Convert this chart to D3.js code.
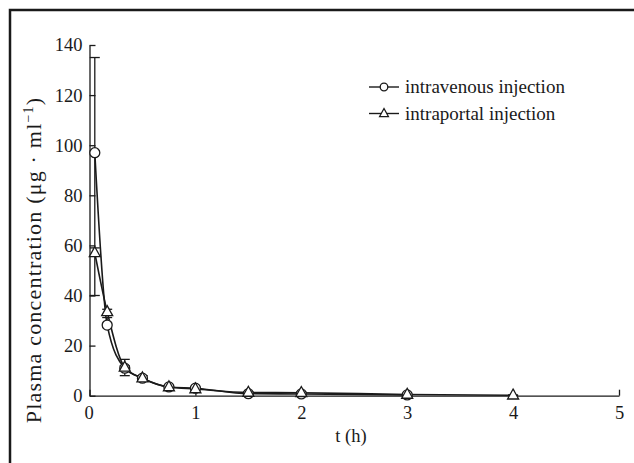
<!DOCTYPE html>
<html>
<head>
<meta charset="utf-8">
<script src="https://cdn.jsdelivr.net/npm/d3@7"></script>
<style>
  html, body { margin: 0; padding: 0; background: #fff; }
  svg { display: block; }
  text { font-family: "Liberation Serif", "Times New Roman", serif; fill: #1a1a1a; }
</style>
</head>
<body>
<script>
// ---- data ----
const timeIV = [0.05, 0.167, 0.333, 0.5, 0.75, 1, 1.5, 2, 3];
const valuesIV = [97, 28.2, 11, 7, 3.5, 3, 0.8, 0.7, 0.3];
const errUpIV = [38, 3, 1, 1, 0.5, 0.5, 0.3, 0.2, 0.2];
const errDownIV = [38, 1, 1, 1, 0.5, 0.5, 0.3, 0.2, 0.2];

const timeIP = [0.05, 0.167, 0.333, 0.5, 0.75, 1, 1.5, 2, 3, 4];
const valuesIP = [57, 33.5, 11.3, 7, 3.5, 2.7, 1.3, 1.2, 0.5, 0.2];
const errUpIP = [0, 1, 3.2, 1, 0.5, 0.5, 0.3, 0.3, 0.2, 0.1];
const errDownIP = [17, 1, 3.3, 1, 0.5, 0.5, 0.3, 0.3, 0.2, 0.1];

const xTicks = [0, 1, 2, 3, 4, 5];
const yTicks = [0, 20, 40, 60, 80, 100, 120, 140];
const seriesNames = ["intravenous injection", "intraportal injection"];

// ---- layout ----
const W = 634, H = 463;
const svg = d3.select("body").append("svg").attr("width", W).attr("height", H);

// frame (only top and left edges visible in the crop)
svg.append("rect").attr("x", 10).attr("y", 10).attr("width", 700).attr("height", 600)
  .attr("fill", "none").attr("stroke", "#1a1a1a").attr("stroke-width", 2.5);

const x = d3.scaleLinear().domain([0, 5]).range([89.5, 619]);
const y = d3.scaleLinear().domain([0, 140]).range([395.7, 45]);

const ink = "#1a1a1a";

// axes
const gx = svg.append("g").attr("transform", `translate(0,${y(0)})`)
  .call(d3.axisBottom(x).tickValues(xTicks).tickFormat(d3.format("d"))
    .tickSizeInner(-6).tickSizeOuter(0).tickPadding(10));
const gy = svg.append("g").attr("transform", `translate(${x(0)},0)`)
  .call(d3.axisLeft(y).tickValues(yTicks).tickFormat(d3.format("d"))
    .tickSizeInner(-6).tickSizeOuter(0).tickPadding(7));
[gx, gy].forEach(g => {
  g.selectAll("path.domain").attr("stroke", ink).attr("stroke-width", 1.3);
  g.selectAll(".tick line").attr("stroke", ink).attr("stroke-width", 1.3);
  g.selectAll(".tick text").attr("font-size", 18.5).attr("fill", ink)
    .attr("font-family", "'Liberation Serif', serif");
});
gx.select(".tick text").attr("dx", "-1");

// axis titles
svg.append("text").attr("x", 351).attr("y", 442).attr("text-anchor", "middle")
  .attr("font-size", 18.5).text("t (h)");

const yl = svg.append("text").attr("transform", "translate(41,260) rotate(-90)")
  .attr("text-anchor", "middle").attr("font-size", 22).attr("letter-spacing", 1.2);
yl.append("tspan").text("Plasma concentration (μg · ml");
yl.append("tspan").attr("font-size", 14).attr("dy", -8).text("−1");
yl.append("tspan").attr("dy", 8).text(")");

// series
const iv = timeIV.map((t, i) => ({ t, v: valuesIV[i], up: errUpIV[i], dn: errDownIV[i] }));
const ip = timeIP.map((t, i) => ({ t, v: valuesIP[i], up: errUpIP[i], dn: errDownIP[i] }));

const line = d3.line().x(d => x(d.t)).y(d => y(d.v)).curve(d3.curveMonotoneX);

[iv, ip].forEach(s => {
  svg.append("path").datum(s).attr("d", line).attr("fill", "none")
    .attr("stroke", ink).attr("stroke-width", 1.6);
});

// error bars
function errorBars(data) {
  const g = svg.append("g").attr("stroke", ink).attr("stroke-width", 1.3);
  data.forEach(d => {
    const cx = x(d.t), cap = 5;
    if (d.up > 0) {
      g.append("line").attr("x1", cx).attr("x2", cx).attr("y1", y(d.v)).attr("y2", y(d.v + d.up));
      g.append("line").attr("x1", cx - cap).attr("x2", cx + cap).attr("y1", y(d.v + d.up)).attr("y2", y(d.v + d.up));
    }
    if (d.dn > 0) {
      g.append("line").attr("x1", cx).attr("x2", cx).attr("y1", y(d.v)).attr("y2", y(d.v - d.dn));
      g.append("line").attr("x1", cx - cap).attr("x2", cx + cap).attr("y1", y(d.v - d.dn)).attr("y2", y(d.v - d.dn));
    }
  });
}
errorBars(iv);
errorBars(ip);

// markers
function tri(s) { return `M0,${-s * 0.62}L${s * 0.55},${s * 0.38}L${-s * 0.55},${s * 0.38}Z`; }

svg.append("g").selectAll("circle").data(iv).join("circle")
  .attr("cx", d => x(d.t)).attr("cy", d => y(d.v)).attr("r", 5)
  .attr("fill", "#fff").attr("stroke", ink).attr("stroke-width", 1.3);

svg.append("g").selectAll("path").data(ip).join("path")
  .attr("transform", d => `translate(${x(d.t)},${y(d.v)})`).attr("d", tri(10))
  .attr("fill", "#fff").attr("stroke", ink).attr("stroke-width", 1.3);

// legend
const legY = [87, 113.5];
const leg = svg.append("g");
legY.forEach((ly, i) => {
  leg.append("line").attr("x1", 369).attr("x2", 399).attr("y1", ly).attr("y2", ly)
    .attr("stroke", ink).attr("stroke-width", 1.4);
  if (i === 0) {
    leg.append("circle").attr("cx", 384).attr("cy", ly).attr("r", 3.8)
      .attr("fill", "#fff").attr("stroke", ink).attr("stroke-width", 1.3);
  } else {
    leg.append("path").attr("transform", `translate(384,${ly})`).attr("d", tri(8))
      .attr("fill", "#fff").attr("stroke", ink).attr("stroke-width", 1.3);
  }
  leg.append("text").attr("x", 405).attr("y", ly).attr("dy", "0.33em")
    .attr("font-size", 19).text(seriesNames[i]);
});
</script>
</body>
</html>
